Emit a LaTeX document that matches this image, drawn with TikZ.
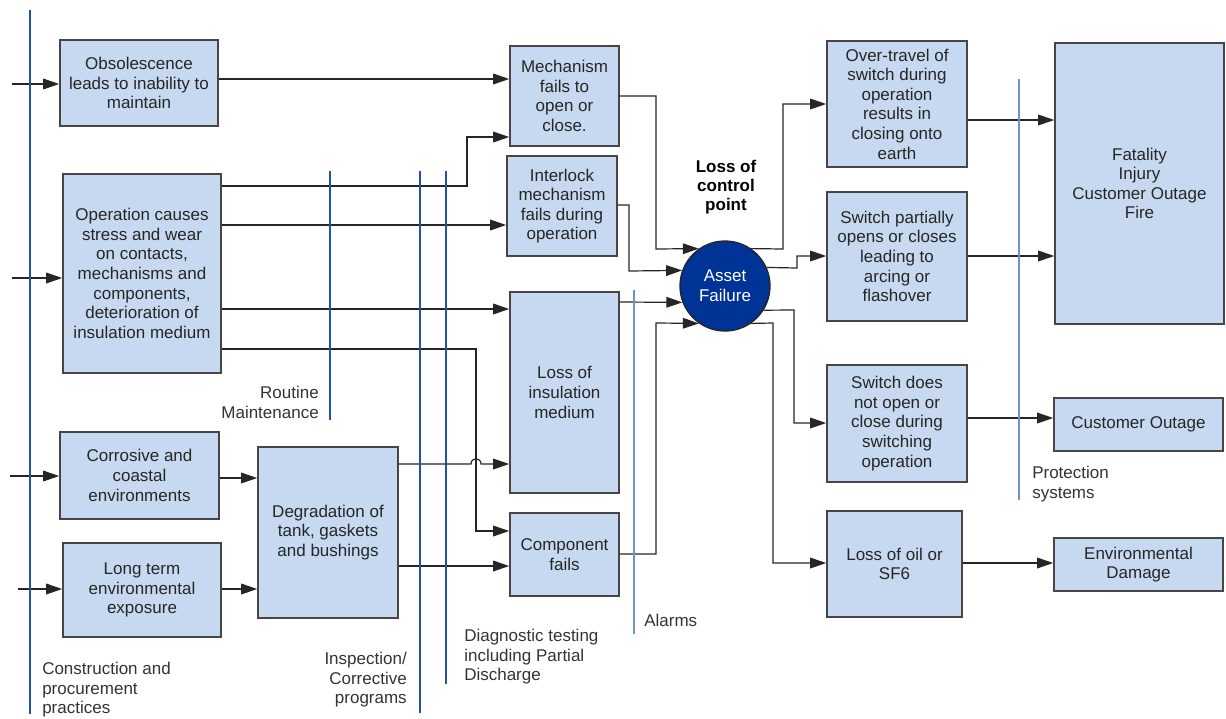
\documentclass[tikz,border=0pt]{standalone}
\usepackage{fontspec}
\setmainfont{Liberation Sans}
\usetikzlibrary{arrows.meta,fit}
\definecolor{boxfill}{RGB}{198,217,240}
\definecolor{boxline}{RGB}{70,70,70}
\definecolor{navy}{RGB}{0,51,150}
\definecolor{barblue}{RGB}{38,80,168}
\definecolor{lbarblue}{RGB}{110,145,210}
\begin{document}
\begin{tikzpicture}[x=0.75pt,y=-0.75pt,
  font=\fontsize{12.75}{14.7}\selectfont,
  box/.style={draw=boxline,line width=1.2pt,fill=boxfill,inner sep=0pt},
  btxt/.style={inner sep=0pt,align=center,text=black!85},
  conn/.style={draw=black!85,line width=0.9pt},
  arr/.style={conn,-{Triangle[length=12pt,width=8pt]}},
  barline/.style={draw=barblue,line width=2pt},
  thinbar/.style={draw=barblue,line width=1.5pt},
  lbarline/.style={draw=lbarblue,line width=1.2pt},
  lbl/.style={inner sep=0pt,text=black!80}]
\useasboundingbox (0,0) rectangle (1226,718);

% boxes
\node[box,fit={(60,40) (218,126)}] (obs) {};
\node[btxt] (obs-t) at (obs.center) {Obsolescence\\leads to inability to\\maintain};
\node[box,fit={(63,174) (221,373)}] (op) {};
\node[btxt] (op-t) at (op.center) {Operation causes\\stress and wear\\on contacts,\\mechanisms and\\components,\\deterioration of\\insulation medium};
\node[box,fit={(60,432) (219,519)}] (corr) {};
\node[btxt] (corr-t) at (corr.center) {Corrosive and\\coastal\\environments};
\node[box,fit={(63,543) (221,637)}] (long) {};
\node[btxt] (long-t) at (long.center) {Long term\\environmental\\exposure};
\node[box,fit={(258,447) (398,618)}] (deg) {};
\node[btxt] (deg-t) at (deg.center) {Degradation of\\tank, gaskets\\and bushings};
\node[box,fit={(510,46) (619,146)}] (mech) {};
\node[btxt] (mech-t) at (mech.center) {Mechanism\\fails to\\open or\\close.};
\node[box,fit={(507,156) (617,256)}] (inter) {};
\node[btxt] (inter-t) at (inter.center) {Interlock\\mechanism\\fails during\\operation};
\node[box,fit={(510,292) (619,493)}] (loss) {};
\node[btxt] (loss-t) at (loss.center) {Loss of\\insulation\\medium};
\node[box,fit={(510,513) (619,596)}] (comp) {};
\node[btxt] (comp-t) at (comp.center) {Component\\fails};
\node[circle,draw=black!85,line width=1pt,fill=navy,text=white,minimum size=67.5pt,inner sep=0pt,align=center] (af) at (725,286) {Asset\\Failure};
\node[box,fit={(827,41) (967,167)}] (over) {};
\node[btxt] (over-t) at (over.center) {Over-travel of\\switch during\\operation\\results in\\closing onto\\earth};
\node[box,fit={(827,192) (967,321)}] (part) {};
\node[btxt] (part-t) at (part.center) {Switch partially\\opens or closes\\leading to\\arcing or\\flashover};
\node[box,fit={(827,365) (967,482)}] (noto) {};
\node[btxt] (noto-t) at (noto.center) {Switch does\\not open or\\close during\\switching\\operation};
\node[box,fit={(827,511) (962,617)}] (oil) {};
\node[btxt] (oil-t) at (oil.center) {Loss of oil or\\SF6};
\node[box,fit={(1055,43) (1224,324)}] (fat) {};
\node[btxt] (fat-t) at (fat.center) {Fatality\\Injury\\Customer Outage\\Fire};
\node[box,fit={(1054,398) (1223,451)}] (cust) {};
\node[btxt] (cust-t) at (cust.center) {Customer Outage};
\node[box,fit={(1054,538) (1223,591)}] (env) {};
\node[btxt] (env-t) at (env.center) {Environmental\\Damage};

% free ends
\coordinate (in1) at (12,84);
\coordinate (in2) at (12,278);
\coordinate (in3) at (10,476);
\coordinate (in4) at (18,589);

% connectors
\draw[arr] (in1) -- (obs.west |- in1);
\draw[arr] (in2) -- (op.west |- in2);
\draw[arr] (in3) -- (corr.west |- in3);
\draw[arr] (in4) -- (long.west |- in4);

\draw[arr] (obs.east |- 0,79) -- (mech.west |- 0,79);
\draw[arr] (op.east |- 0,186) -- (467,186) -- (467,137) -- (mech.west |- 0,137);
\draw[arr] (op.east |- 0,225) -- (inter.west |- 0,225);
\draw[arr] (op.east |- 0,309) -- (loss.west |- 0,309);
\draw[arr] (op.east |- 0,349) -- (476,349) -- (476,531) -- (comp.west |- 0,531);
\draw[arr] (corr.east |- 0,478) -- (deg.west |- 0,478);
\draw[arr] (long.east |- 0,589) -- (deg.west |- 0,589);
\draw[arr] (deg.east |- 0,464) -- (471,464) .. controls (471,457) and (481,457) .. (481,464) -- (loss.west |- 0,464);
\draw[arr] (deg.east |- 0,566) -- (comp.west |- 0,566);

\draw[arr] (mech.east |- 0,96) -- (656,96) -- (656,249) -- (af.125);
\draw[arr] (inter.east |- 0,205) -- (629,205) -- (629,271) -- (af.160);
\draw[arr] (loss.east |- 0,302) -- (af.201);
\draw[arr] (comp.east |- 0,554) -- (656,554) -- (656,323) -- (af.235);

\draw[arr] (af.55) -- (783,249) -- (783,104) -- (over.west |- 0,104);
\draw[arr] (af.24) -- (797,268) -- (797,256) -- (part.west |- 0,256);
\draw[arr] (af.-32) -- (794,310) -- (794,423) -- (noto.west |- 0,423);
\draw[arr] (af.-55) -- (773,323) -- (773,563) -- (oil.west |- 0,563);

\draw[arr] (over.east |- 0,120) -- (fat.west |- 0,120);
\draw[arr] (part.east |- 0,256) -- (fat.west |- 0,256);
\draw[arr] (noto.east |- 0,418) -- (cust.west |- 0,418);
\draw[arr] (oil.east |- 0,563) -- (env.west |- 0,563);

% barrier lines
\draw[barline] (30,10) -- (30,714);
\draw[barline] (330,171) -- (330,420);
\draw[barline] (420,171) -- (420,713);
\draw[thinbar] (446,171) -- (446,684);
\draw[lbarline] (634,290) -- (634,634);
\draw[lbarline] (1019,79) -- (1019,500);

% labels
\node[lbl,anchor=north east,align=right] (lrm) at (319,386) {Routine\\Maintenance};
\node[lbl,anchor=north west,align=left] (lcp) at (42,662) {Construction and\\procurement\\practices};
\node[lbl,anchor=north east,align=right] (lic) at (407,652) {Inspection/\\Corrective\\programs};
\node[lbl,anchor=north west,align=left] (ldt) at (464,629) {Diagnostic testing\\including Partial\\Discharge};
\node[lbl,anchor=north west,align=left] (lal) at (644,614) {Alarms};
\node[lbl,anchor=north west,align=left] (lps) at (1032,466) {Protection\\systems};
\node[lbl,anchor=north,align=center,font=\fontsize{12.75}{14.4}\selectfont\bfseries,text=black] (lcpt) at (726,160) {Loss of\\control\\point};
\end{tikzpicture}
\end{document}
